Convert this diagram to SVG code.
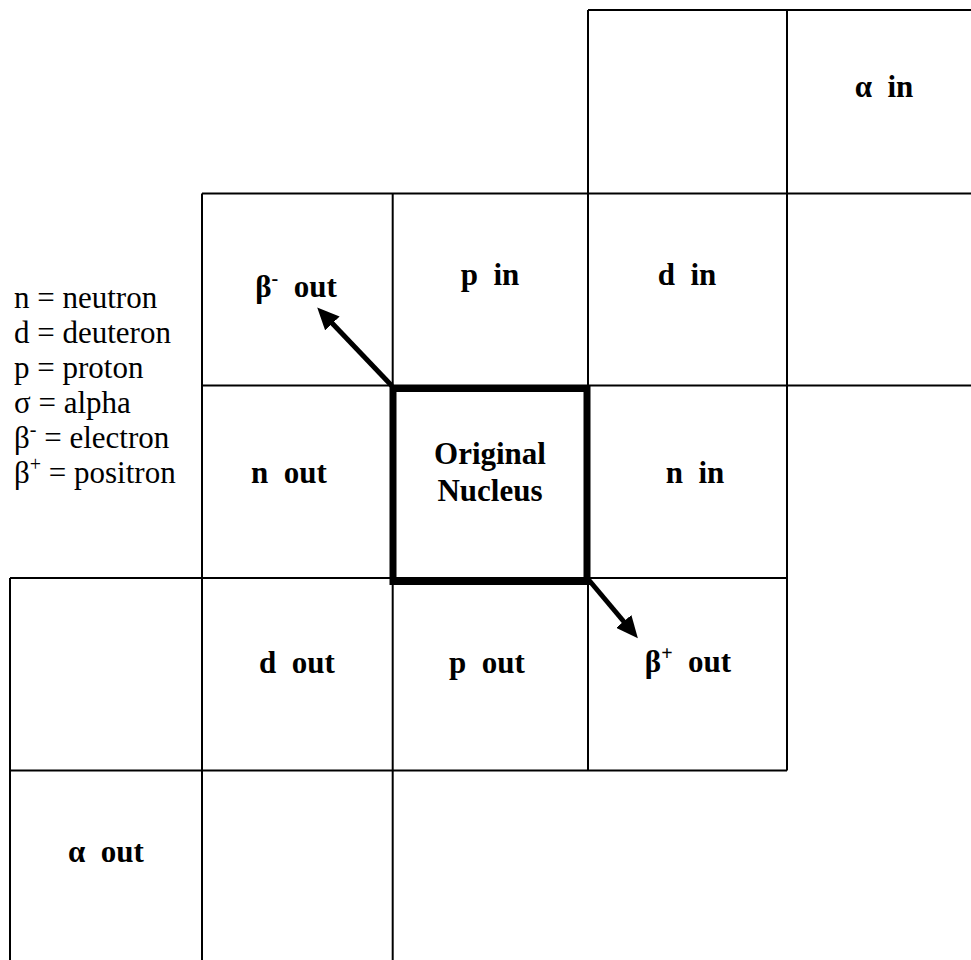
<svg xmlns="http://www.w3.org/2000/svg" width="971" height="960" viewBox="0 0 971 960">
<style>
.grid{stroke:#000;stroke-width:2;fill:none}
.lbl{font-family:"Liberation Serif","Times New Roman",serif;font-weight:bold;font-size:31px;fill:#000;text-anchor:middle;white-space:pre}
.leg{font-family:"Liberation Serif","Times New Roman",serif;font-size:31px;fill:#000;white-space:pre}
.arrow{stroke:#000;stroke-width:5;fill:none;marker-end:url(#head)}
</style>
<defs>
<marker id="head" markerUnits="userSpaceOnUse" markerWidth="22" markerHeight="20" refX="2" refY="10" orient="auto">
<path d="M0,0 L22,10 L0,20 z" fill="#000"/>
</marker>
</defs>
<rect width="971" height="960" fill="#fff"/>
<g id="grid">
<line class="grid" x1="588" y1="10" x2="971" y2="10"/>
<line class="grid" x1="202" y1="193.5" x2="971" y2="193.5"/>
<line class="grid" x1="202" y1="385.5" x2="971" y2="385.5"/>
<line class="grid" x1="10" y1="578" x2="787" y2="578"/>
<line class="grid" x1="10" y1="770.5" x2="787" y2="770.5"/>
<line class="grid" x1="10" y1="578" x2="10" y2="960"/>
<line class="grid" x1="202" y1="193.5" x2="202" y2="960"/>
<line class="grid" x1="392.7" y1="193.5" x2="392.7" y2="960"/>
<line class="grid" x1="588" y1="10" x2="588" y2="770.5"/>
<line class="grid" x1="787" y1="10" x2="787" y2="770.5"/>
</g>
<g id="alpha-in"><text class="lbl" x="884" y="97">α  in</text></g>
<g id="beta-minus-out"><text class="lbl" x="296" y="297">β<tspan font-size="20" dy="-12">-</tspan><tspan dy="12">  out</tspan></text></g>
<g id="p-in"><text class="lbl" x="490" y="285">p  in</text></g>
<g id="d-in"><text class="lbl" x="687" y="285">d  in</text></g>
<g id="n-out"><text class="lbl" x="289" y="483">n  out</text></g>
<g id="original-nucleus">
<rect x="393" y="388.5" width="194" height="193" fill="none" stroke="#000" stroke-width="7"/>
<text class="lbl" x="490" y="464">Original</text>
<text class="lbl" x="490" y="501">Nucleus</text>
</g>
<g id="n-in"><text class="lbl" x="695" y="483">n  in</text></g>
<g id="d-out"><text class="lbl" x="297" y="673">d  out</text></g>
<g id="p-out"><text class="lbl" x="487" y="673">p  out</text></g>
<g id="beta-plus-out"><text class="lbl" x="688" y="672">β<tspan font-size="20" dy="-12">+</tspan><tspan dy="12">  out</tspan></text></g>
<g id="alpha-out"><text class="lbl" x="106" y="862">α  out</text></g>
<g id="legend">
<text class="leg" x="14" y="308">n = neutron</text>
<text class="leg" x="14" y="343">d = deuteron</text>
<text class="leg" x="14" y="378">p = proton</text>
<text class="leg" x="14" y="413">σ = alpha</text>
<text class="leg" x="14" y="448">β<tspan font-size="20" dy="-12">-</tspan><tspan dy="12"> = electron</tspan></text>
<text class="leg" x="14" y="483">β<tspan font-size="20" dy="-12">+</tspan><tspan dy="12"> = positron</tspan></text>
</g>
<g id="connectors">
<line class="arrow" x1="392" y1="386" x2="331" y2="322"/>
<line class="arrow" x1="588" y1="579" x2="625" y2="623"/>
</g>
</svg>
